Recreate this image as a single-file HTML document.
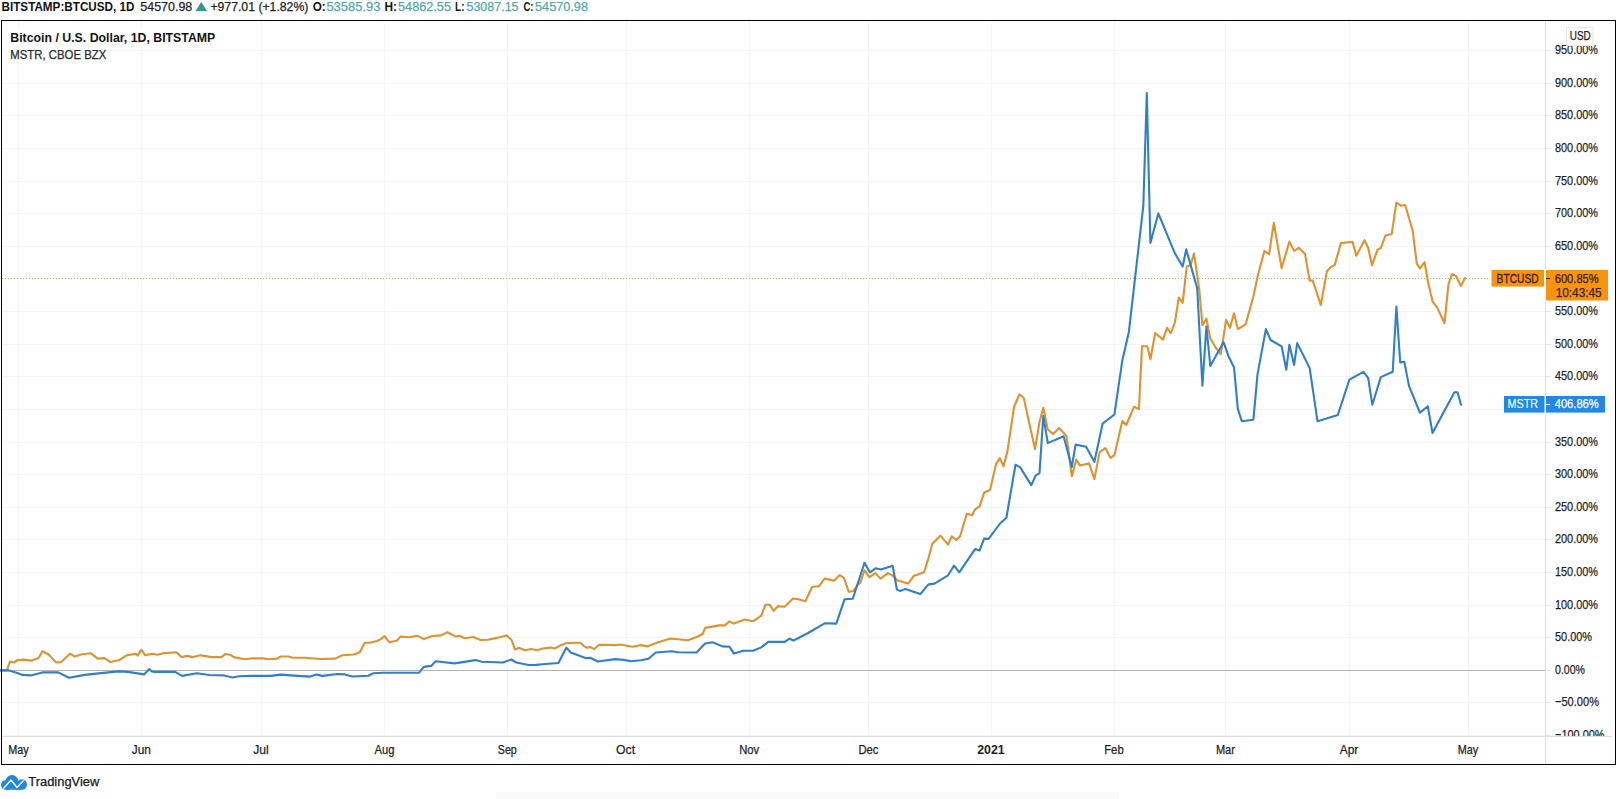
<!DOCTYPE html>
<html><head><meta charset="utf-8"><style>
html,body{margin:0;padding:0;background:#fff;overflow:hidden;width:1622px;height:799px;}
svg{display:block;font-family:"Liberation Sans", sans-serif;}
</style></head><body>
<svg width="1622" height="799" viewBox="0 0 1622 799">
<rect x="0" y="0" width="1622" height="799" fill="#ffffff"/>
<path d="M2 735.5H1545 M2 702.5H1545 M2 637.5H1545 M2 605.5H1545 M2 572.5H1545 M2 539.5H1545 M2 507.5H1545 M2 474.5H1545 M2 442.5H1545 M2 409.5H1545 M2 376.5H1545 M2 344.5H1545 M2 311.5H1545 M2 278.5H1545 M2 246.5H1545 M2 213.5H1545 M2 181.5H1545 M2 148.5H1545 M2 115.5H1545 M2 83.5H1545 M2 50.5H1545 M18.5 21V736 M141.5 21V736 M261.5 21V736 M384.5 21V736 M507.5 21V736 M626.5 21V736 M749.5 21V736 M868.5 21V736 M991.5 21V736 M1114.5 21V736 M1225.5 21V736 M1349.5 21V736 M1468.5 21V736" stroke="#f5f5f5" stroke-width="1" fill="none"/>
<path d="M2 670.5H1545" stroke="#b2b2b2" stroke-width="1"/>
<path d="M2 278.5H1489" stroke="#bdb27e" stroke-width="1" stroke-dasharray="1 2"/>
<polyline points="0.0,670.4 6.9,670.4 9.9,661.6 13.8,662.5 17.8,660.0 23.7,659.6 31.6,660.6 38.5,658.0 42.4,651.2 48.3,654.2 56.2,662.5 61.1,662.0 70.0,653.7 75.0,656.6 81.9,654.2 90.7,653.2 97.6,658.6 104.5,658.1 110.5,662.0 119.3,660.0 127.2,655.1 136.1,653.7 137.6,655.6 141.5,649.7 145.0,655.1 152.9,653.7 157.4,654.7 162.3,653.4 176.5,652.2 181.4,657.1 187.0,655.9 193.2,657.1 200.6,655.3 211.7,657.1 221.5,657.1 225.2,654.0 230.1,654.7 233.8,657.1 245.0,659.3 252.3,658.4 263.4,658.4 268.4,659.3 277.0,658.6 280.7,656.5 288.1,656.5 293.0,657.7 305.4,657.7 320.2,659.0 335.0,658.6 342.4,655.3 353.6,654.5 359.7,652.3 364.7,642.8 369.6,642.8 377.0,641.0 380.7,639.1 384.4,636.0 389.3,642.2 396.7,640.7 400.4,636.6 409.0,637.3 417.7,635.8 423.8,639.1 432.5,636.0 441.1,635.4 447.3,632.3 455.9,636.6 459.6,635.8 464.5,638.2 473.2,637.0 480.6,640.0 488.0,639.7 496.6,637.9 506.5,635.4 511.4,639.7 515.1,649.6 518.8,647.7 525.0,650.2 531.1,649.0 537.3,650.2 542.3,648.5 551.0,647.6 554.7,648.5 559.6,645.8 565.8,643.3 576.9,642.7 580.6,642.7 584.3,646.4 586.7,647.6 590.4,647.0 594.1,649.2 599.0,644.8 616.3,645.1 620.0,644.5 632.3,646.7 641.0,645.1 647.1,646.4 658.2,642.3 670.6,638.6 678.0,639.3 687.8,640.2 697.7,636.5 702.6,634.0 705.1,627.9 712.5,626.6 718.7,625.4 724.8,625.4 729.6,621.3 733.8,623.6 744.8,619.5 753.0,621.3 761.3,615.7 765.4,604.7 769.6,604.7 773.7,610.9 777.8,606.1 784.7,606.8 793.0,598.5 798.5,599.2 805.3,601.3 812.2,586.8 819.1,586.2 824.6,578.6 834.2,580.6 839.8,575.1 843.9,577.9 848.7,591.7 853.5,591.0 857.6,584.8 860.4,582.7 864.5,570.3 869.3,577.2 875.5,573.1 880.4,578.6 887.9,573.1 892.1,575.1 897.6,580.6 908.3,583.6 913.5,576.1 924.0,572.3 928.5,558.1 932.3,543.8 940.5,535.6 948.0,544.6 951.8,536.3 956.3,540.1 960.1,536.3 966.8,513.8 972.1,515.3 975.1,509.3 979.6,506.3 984.1,492.8 990.1,489.8 996.0,464.1 999.8,458.1 1003.5,466.3 1007.3,452.1 1014.0,407.0 1019.3,394.3 1023.8,398.0 1029.0,422.0 1035.0,449.1 1039.5,422.0 1043.3,407.8 1047.8,429.5 1053.1,434.1 1059.1,428.0 1066.6,436.3 1071.8,476.1 1076.3,459.6 1080.1,465.6 1089.1,463.3 1094.4,479.1 1099.6,452.1 1105.3,448.1 1110.5,457.8 1114.4,455.2 1122.3,421.0 1126.3,425.0 1134.1,406.6 1138.9,409.2 1142.0,346.2 1147.3,346.2 1150.4,359.3 1155.2,333.0 1163.0,339.6 1167.0,327.8 1170.9,333.0 1174.9,322.5 1178.8,297.6 1182.7,302.8 1186.7,266.5 1190.6,265.2 1194.0,253.4 1199.3,289.9 1202.4,325.2 1206.4,318.6 1210.3,338.3 1215.6,347.5 1220.8,354.1 1226.1,319.9 1230.0,327.8 1234.0,313.3 1237.9,329.1 1245.6,324.4 1253.4,296.3 1258.1,274.4 1264.4,250.9 1269.1,254.1 1273.8,222.8 1281.6,268.1 1289.4,241.6 1294.1,250.9 1298.8,247.8 1305.0,254.1 1309.7,280.6 1312.8,280.6 1320.8,305.0 1326.9,271.3 1331.6,266.6 1334.7,265.0 1340.9,243.1 1352.5,241.7 1356.3,255.8 1364.5,240.2 1368.2,248.0 1372.0,265.2 1377.6,249.6 1380.8,248.0 1385.5,235.5 1391.7,233.9 1396.4,202.5 1401.1,205.7 1405.2,205.0 1412.7,230.8 1416.8,263.7 1419.9,268.4 1424.6,262.1 1428.0,282.0 1432.5,301.3 1437.2,307.6 1444.5,323.2 1448.5,284.0 1452.0,274.0 1456.0,276.0 1461.0,286.0 1465.0,278.0" fill="none" stroke="#e0922e" stroke-width="2.1" stroke-linejoin="round" stroke-linecap="round"/>
<polyline points="0.0,670.4 8.9,670.4 15.8,672.4 22.7,674.9 30.6,675.4 42.4,672.4 58.2,672.4 69.0,677.8 84.8,674.9 98.6,673.4 118.3,671.4 128.2,671.9 144.0,674.4 149.4,669.0 151.9,671.4 154.9,671.9 174.7,671.7 182.1,675.9 196.9,673.2 209.2,675.0 224.0,675.4 232.6,677.5 238.8,676.2 251.1,675.9 270.8,675.9 280.7,674.6 298.0,675.9 310.3,676.6 316.5,674.6 322.6,675.9 337.4,674.0 344.8,674.4 352.3,676.5 368.4,675.7 373.3,673.3 383.2,672.8 418.9,672.8 423.8,666.9 431.2,665.9 435.6,661.3 454.7,663.4 475.6,660.1 481.8,661.7 502.8,662.5 511.4,659.5 516.3,662.5 528.7,665.0 536.2,664.9 542.3,664.3 558.4,663.0 566.4,647.6 570.7,652.5 585.5,658.1 590.4,657.8 597.8,661.5 615.1,659.1 623.7,659.9 631.1,661.2 641.0,660.3 648.4,658.7 655.8,652.5 671.8,651.3 678.0,652.2 696.5,652.5 705.1,643.5 712.5,642.3 722.4,646.4 729.6,646.7 733.8,653.6 743.4,650.8 753.0,650.8 761.3,647.4 768.2,641.9 784.7,641.9 789.5,638.7 793.6,640.5 808.1,633.0 824.6,623.3 836.3,623.6 844.6,599.2 852.8,598.8 864.5,562.8 870.0,572.4 875.5,568.3 881.0,569.6 892.7,565.8 896.9,589.6 900.3,591.0 905.3,588.9 920.3,594.1 928.5,584.4 934.5,583.6 948.0,575.3 954.1,565.6 959.3,572.3 975.1,549.1 979.6,550.6 984.1,538.6 988.6,538.9 1000.0,523.5 1006.4,517.7 1015.5,464.8 1020.0,467.1 1031.3,485.1 1035.8,475.3 1039.5,473.1 1043.3,416.0 1047.8,443.1 1063.6,436.3 1071.8,467.1 1075.6,444.6 1086.1,446.8 1094.4,461.8 1102.6,423.7 1114.4,414.5 1122.3,360.6 1128.9,331.7 1143.3,206.1 1146.8,93.1 1150.4,242.9 1158.3,213.4 1174.9,253.4 1182.7,266.5 1186.2,249.4 1197.2,288.4 1202.4,385.6 1206.4,326.5 1210.3,365.9 1223.5,342.2 1228.7,356.7 1234.0,367.2 1237.8,408.8 1241.9,421.3 1253.4,419.7 1257.5,374.4 1265.9,329.1 1270.6,340.0 1281.6,346.3 1286.3,369.7 1289.4,344.7 1294.1,365.0 1297.2,343.1 1309.7,368.1 1317.5,421.3 1337.8,415.0 1349.4,379.7 1363.5,371.8 1368.2,378.1 1372.3,404.7 1380.8,377.1 1392.7,371.8 1396.4,306.6 1400.2,362.4 1404.3,361.8 1409.0,385.9 1419.9,412.6 1427.8,406.3 1432.5,432.9 1454.4,392.2 1457.5,392.2 1461.0,404.7" fill="none" stroke="#2f80c9" stroke-width="2.1" stroke-linejoin="round" stroke-linecap="round"/>
<rect x="1546" y="21" width="69" height="716" fill="#ffffff"/>
<rect x="2" y="737" width="1613" height="27" fill="#ffffff"/>
<path d="M1545.5 21V764" stroke="#dedede" stroke-width="1"/>
<path d="M2 736.5H1612" stroke="#dedede" stroke-width="1"/>
<text x="1555" y="738.6" font-size="13" fill="#1e1e1e" stroke="#1e1e1e" stroke-width="0.25" textLength="49.5" lengthAdjust="spacingAndGlyphs">−100.00%</text>
<text x="1555" y="705.6" font-size="13" fill="#1e1e1e" stroke="#1e1e1e" stroke-width="0.25" textLength="44" lengthAdjust="spacingAndGlyphs">−50.00%</text>
<text x="1555" y="673.6" font-size="13" fill="#1e1e1e" stroke="#1e1e1e" stroke-width="0.25" textLength="30" lengthAdjust="spacingAndGlyphs">0.00%</text>
<text x="1555" y="640.6" font-size="13" fill="#1e1e1e" stroke="#1e1e1e" stroke-width="0.25" textLength="37" lengthAdjust="spacingAndGlyphs">50.00%</text>
<text x="1555" y="608.6" font-size="13" fill="#1e1e1e" stroke="#1e1e1e" stroke-width="0.25" textLength="43" lengthAdjust="spacingAndGlyphs">100.00%</text>
<text x="1555" y="575.6" font-size="13" fill="#1e1e1e" stroke="#1e1e1e" stroke-width="0.25" textLength="43" lengthAdjust="spacingAndGlyphs">150.00%</text>
<text x="1555" y="542.6" font-size="13" fill="#1e1e1e" stroke="#1e1e1e" stroke-width="0.25" textLength="43" lengthAdjust="spacingAndGlyphs">200.00%</text>
<text x="1555" y="510.6" font-size="13" fill="#1e1e1e" stroke="#1e1e1e" stroke-width="0.25" textLength="43" lengthAdjust="spacingAndGlyphs">250.00%</text>
<text x="1555" y="477.6" font-size="13" fill="#1e1e1e" stroke="#1e1e1e" stroke-width="0.25" textLength="43" lengthAdjust="spacingAndGlyphs">300.00%</text>
<text x="1555" y="445.6" font-size="13" fill="#1e1e1e" stroke="#1e1e1e" stroke-width="0.25" textLength="43" lengthAdjust="spacingAndGlyphs">350.00%</text>
<text x="1555" y="379.6" font-size="13" fill="#1e1e1e" stroke="#1e1e1e" stroke-width="0.25" textLength="43" lengthAdjust="spacingAndGlyphs">450.00%</text>
<text x="1555" y="347.6" font-size="13" fill="#1e1e1e" stroke="#1e1e1e" stroke-width="0.25" textLength="43" lengthAdjust="spacingAndGlyphs">500.00%</text>
<text x="1555" y="314.6" font-size="13" fill="#1e1e1e" stroke="#1e1e1e" stroke-width="0.25" textLength="43" lengthAdjust="spacingAndGlyphs">550.00%</text>
<text x="1555" y="249.6" font-size="13" fill="#1e1e1e" stroke="#1e1e1e" stroke-width="0.25" textLength="43" lengthAdjust="spacingAndGlyphs">650.00%</text>
<text x="1555" y="216.6" font-size="13" fill="#1e1e1e" stroke="#1e1e1e" stroke-width="0.25" textLength="43" lengthAdjust="spacingAndGlyphs">700.00%</text>
<text x="1555" y="184.6" font-size="13" fill="#1e1e1e" stroke="#1e1e1e" stroke-width="0.25" textLength="43" lengthAdjust="spacingAndGlyphs">750.00%</text>
<text x="1555" y="151.6" font-size="13" fill="#1e1e1e" stroke="#1e1e1e" stroke-width="0.25" textLength="43" lengthAdjust="spacingAndGlyphs">800.00%</text>
<text x="1555" y="118.6" font-size="13" fill="#1e1e1e" stroke="#1e1e1e" stroke-width="0.25" textLength="43" lengthAdjust="spacingAndGlyphs">850.00%</text>
<text x="1555" y="86.6" font-size="13" fill="#1e1e1e" stroke="#1e1e1e" stroke-width="0.25" textLength="43" lengthAdjust="spacingAndGlyphs">900.00%</text>
<text x="1555" y="53.6" font-size="13" fill="#1e1e1e" stroke="#1e1e1e" stroke-width="0.25" textLength="43" lengthAdjust="spacingAndGlyphs">950.00%</text>
<path d="M1546 735.5H1551 M1546 702.5H1551 M1546 670.5H1551 M1546 637.5H1551 M1546 605.5H1551 M1546 572.5H1551 M1546 539.5H1551 M1546 507.5H1551 M1546 474.5H1551 M1546 442.5H1551 M1546 409.5H1551 M1546 376.5H1551 M1546 344.5H1551 M1546 311.5H1551 M1546 278.5H1551 M1546 246.5H1551 M1546 213.5H1551 M1546 181.5H1551 M1546 148.5H1551 M1546 115.5H1551 M1546 83.5H1551 M1546 50.5H1551" stroke="#e4e4e4" stroke-width="1"/>
<rect x="1546" y="737" width="69" height="27" fill="#ffffff"/>
<path d="M1545.5 736V764" stroke="#dedede" stroke-width="1"/>
<path d="M1546 736.5H1612" stroke="#dedede" stroke-width="1"/>
<text x="8.2" y="754" font-size="12.9" fill="#1e1e1e" textLength="20.5" lengthAdjust="spacingAndGlyphs" stroke="#1e1e1e" stroke-width="0.25">May</text>
<text x="131.8" y="754" font-size="12.9" fill="#1e1e1e" textLength="19" lengthAdjust="spacingAndGlyphs" stroke="#1e1e1e" stroke-width="0.25">Jun</text>
<text x="253.2" y="754" font-size="12.9" fill="#1e1e1e" textLength="15.5" lengthAdjust="spacingAndGlyphs" stroke="#1e1e1e" stroke-width="0.25">Jul</text>
<text x="374.5" y="754" font-size="12.9" fill="#1e1e1e" textLength="20" lengthAdjust="spacingAndGlyphs" stroke="#1e1e1e" stroke-width="0.25">Aug</text>
<text x="497.8" y="754" font-size="12.9" fill="#1e1e1e" textLength="19" lengthAdjust="spacingAndGlyphs" stroke="#1e1e1e" stroke-width="0.25">Sep</text>
<text x="616.1" y="754" font-size="12.9" fill="#1e1e1e" textLength="19" lengthAdjust="spacingAndGlyphs" stroke="#1e1e1e" stroke-width="0.25">Oct</text>
<text x="739.2" y="754" font-size="12.9" fill="#1e1e1e" textLength="20" lengthAdjust="spacingAndGlyphs" stroke="#1e1e1e" stroke-width="0.25">Nov</text>
<text x="858.5" y="754" font-size="12.9" fill="#1e1e1e" textLength="20" lengthAdjust="spacingAndGlyphs" stroke="#1e1e1e" stroke-width="0.25">Dec</text>
<text x="977.2" y="754" font-size="12.9" fill="#1e1e1e" textLength="27.5" lengthAdjust="spacingAndGlyphs" font-weight="bold">2021</text>
<text x="1104.2" y="754" font-size="12.9" fill="#1e1e1e" textLength="19.5" lengthAdjust="spacingAndGlyphs" stroke="#1e1e1e" stroke-width="0.25">Feb</text>
<text x="1215.9" y="754" font-size="12.9" fill="#1e1e1e" textLength="19" lengthAdjust="spacingAndGlyphs" stroke="#1e1e1e" stroke-width="0.25">Mar</text>
<text x="1339.8" y="754" font-size="12.9" fill="#1e1e1e" textLength="18.5" lengthAdjust="spacingAndGlyphs" stroke="#1e1e1e" stroke-width="0.25">Apr</text>
<text x="1457.8" y="754" font-size="12.9" fill="#1e1e1e" textLength="20.5" lengthAdjust="spacingAndGlyphs" stroke="#1e1e1e" stroke-width="0.25">May</text>
<rect x="1.5" y="20.5" width="1614" height="744" fill="none" stroke="#000000" stroke-width="1"/>
<text x="1.5" y="10.9" font-size="12.9" fill="#111111" font-weight="bold" textLength="133" lengthAdjust="spacingAndGlyphs">BITSTAMP:BTCUSD, 1D</text>
<text x="140.3" y="10.9" font-size="12.9" fill="#222222" stroke="#222222" stroke-width="0.25" textLength="52" lengthAdjust="spacingAndGlyphs">54570.98</text>
<path d="M195.6 10.9L201.3 1.9L207 10.9Z" fill="#2f9a8c"/>
<text x="210.4" y="10.9" font-size="12.9" fill="#222222" stroke="#222222" stroke-width="0.25" textLength="98" lengthAdjust="spacingAndGlyphs">+977.01 (+1.82%)</text>
<text x="312.7" y="10.9" font-size="12.9" fill="#111111" font-weight="bold" textLength="13" lengthAdjust="spacingAndGlyphs">O:</text>
<text x="326.4" y="10.9" font-size="12.9" fill="#53a89e" stroke="#53a89e" stroke-width="0.25" textLength="54" lengthAdjust="spacingAndGlyphs">53585.93</text>
<text x="384.4" y="10.9" font-size="12.9" fill="#111111" font-weight="bold" textLength="12.5" lengthAdjust="spacingAndGlyphs">H:</text>
<text x="398" y="10.9" font-size="12.9" fill="#53a89e" stroke="#53a89e" stroke-width="0.25" textLength="53" lengthAdjust="spacingAndGlyphs">54862.55</text>
<text x="455" y="10.9" font-size="12.9" fill="#111111" font-weight="bold" textLength="9.5" lengthAdjust="spacingAndGlyphs">L:</text>
<text x="466.5" y="10.9" font-size="12.9" fill="#53a89e" stroke="#53a89e" stroke-width="0.25" textLength="52" lengthAdjust="spacingAndGlyphs">53087.15</text>
<text x="523.5" y="10.9" font-size="12.9" fill="#111111" font-weight="bold" textLength="10" lengthAdjust="spacingAndGlyphs">C:</text>
<text x="535" y="10.9" font-size="12.9" fill="#53a89e" stroke="#53a89e" stroke-width="0.25" textLength="53" lengthAdjust="spacingAndGlyphs">54570.98</text>
<rect x="2" y="28" width="216" height="17" fill="#ffffff"/><rect x="2" y="45" width="107" height="16" fill="#ffffff"/>
<text x="10.3" y="41.8" font-size="12.9" fill="#131313" font-weight="bold" textLength="205" lengthAdjust="spacingAndGlyphs">Bitcoin / U.S. Dollar, 1D, BITSTAMP</text>
<text x="10.3" y="58.8" font-size="12.4" fill="#2a2a2a" stroke="#2a2a2a" stroke-width="0.25" textLength="96" lengthAdjust="spacingAndGlyphs">MSTR, CBOE BZX</text>
<rect x="1566.5" y="27.5" width="26.5" height="18" fill="#ffffff" stroke="#e6e6e6" stroke-width="1"/>
<text x="1569.8" y="39.8" font-size="13" fill="#222222" stroke="#222222" stroke-width="0.25" textLength="21" lengthAdjust="spacingAndGlyphs">USD</text>
<rect x="1491.5" y="270" width="52.5" height="16.6" fill="#f7930f"/>
<rect x="1546" y="270" width="62" height="30.5" fill="#f7930f"/>
<path d="M1545.5 270V300.5M1545.5 396V412.6" stroke="#ffffff" stroke-width="1"/>
<text x="1496.6" y="282.6" font-size="12.4" fill="#3a1a00" stroke="#3a1a00" stroke-width="0.3" textLength="42" lengthAdjust="spacingAndGlyphs">BTCUSD</text>
<path d="M1546 278.5H1550" stroke="#3a2000" stroke-width="1"/>
<text x="1554.7" y="282.6" font-size="12.2" fill="#3a2000" stroke="#3a2000" stroke-width="0.25" textLength="44" lengthAdjust="spacingAndGlyphs">600.85%</text>
<text x="1555.7" y="296.6" font-size="12.2" fill="#3a2000" stroke="#3a2000" stroke-width="0.25" textLength="46" lengthAdjust="spacingAndGlyphs">10:43:45</text>
<rect x="1504" y="396" width="40.5" height="16.6" fill="#2188e5"/>
<rect x="1546" y="396" width="59" height="16.6" fill="#2188e5"/>
<text x="1507.5" y="408.4" font-size="12.2" fill="#ffffff" stroke="#ffffff" stroke-width="0.1" textLength="30.5" lengthAdjust="spacingAndGlyphs">MSTR</text>
<path d="M1546 404.5H1550" stroke="#ffffff" stroke-width="1"/>
<text x="1554.7" y="408.4" font-size="12.2" fill="#ffffff" stroke="#ffffff" stroke-width="0.25" textLength="44" lengthAdjust="spacingAndGlyphs">406.86%</text>
<rect x="496" y="792" width="623" height="7" fill="#fafafa"/>
<g fill="#1f87e0"><circle cx="12" cy="781.5" r="6.5"/><circle cx="5.8" cy="785" r="4.8"/><circle cx="21.8" cy="784.5" r="5.2"/><rect x="5.8" y="783" width="16" height="6.8"/></g>
<path d="M3.5 788.5L11 780L17 787.5L23.5 780.5" fill="none" stroke="#ffffff" stroke-width="1.4" stroke-linejoin="round"/>
<text x="28.3" y="786.4" font-size="12.3" fill="#1a1a1a" stroke="#1a1a1a" stroke-width="0.25" textLength="71" lengthAdjust="spacingAndGlyphs">TradingView</text>
</svg>
</body></html>
